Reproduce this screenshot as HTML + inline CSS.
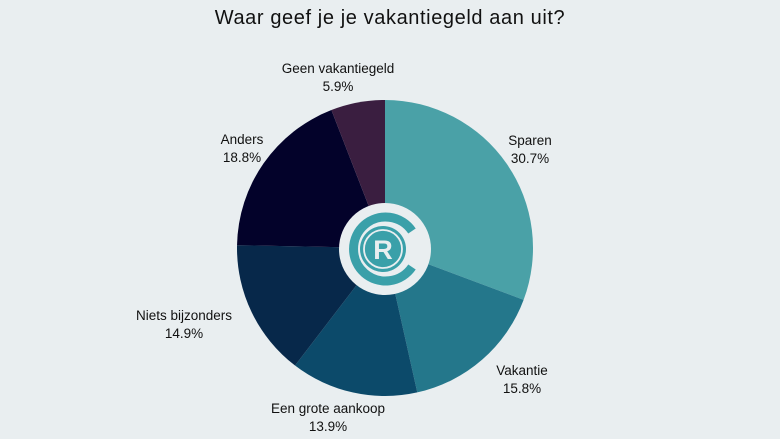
<!DOCTYPE html>
<html><head><meta charset="utf-8"><style>
body{margin:0;background:#e9eef0;}
svg{display:block;font-family:"Liberation Sans",sans-serif;}
</style></head><body>
<svg id="c" width="780" height="439" viewBox="0 0 780 439">
<rect width="780" height="439" fill="#e9eef0"/>
<text x="390" y="24" text-anchor="middle" font-size="20" letter-spacing="0.6" fill="#111">Waar geef je je vakantiegeld aan uit?</text>
<g id="slices"></g>
<g id="labels"></g>
<g>
<circle cx="385" cy="249" r="46" fill="#e9eef0"/>
<path d="M 412 231 A 32 32 0 1 0 412 267" fill="none" stroke="#3aa0a9" stroke-width="9"/>
<circle cx="383" cy="249" r="23" fill="#3aa0a9"/>
<circle cx="383" cy="249" r="19" fill="none" stroke="#e9eef0" stroke-width="1.8"/>
<text x="383" y="259" text-anchor="middle" font-size="27" font-weight="bold" fill="#e9eef0">R</text>
</g>
</svg>
<script>
const categories=["Sparen","Vakantie","Een grote aankoop","Niets bijzonders","Anders","Geen vakantiegeld"];
const values=[30.7,15.8,13.9,14.9,18.8,5.9];
const colors=["#4aa1a7","#24778b","#0c4a6a","#07284a","#03022a","#3a1e40"];
const labelPos=[[530,145,"middle"],[522,375,"middle"],[328,413,"middle"],[184,320,"middle"],[242,144,"middle"],[338,73,"middle"]];
const cx=385,cy=248,r=148;
const ns="http://www.w3.org/2000/svg";
const total=values.reduce((a,b)=>a+b,0);
let a0=0;
const sg=document.getElementById('slices'),lg=document.getElementById('labels');
function pt(a){return [cx+r*Math.sin(a),cy-r*Math.cos(a)];}
values.forEach((v,i)=>{
 const a1=a0+v/total*2*Math.PI;
 const p0=pt(a0),p1=pt(a1);
 const p=document.createElementNS(ns,'path');
 p.setAttribute('d',`M${cx},${cy}L${p0[0]},${p0[1]}A${r},${r} 0 ${a1-a0>Math.PI?1:0} 1 ${p1[0]},${p1[1]}Z`);
 p.setAttribute('fill',colors[i]);
 
 
 sg.appendChild(p);
 const [lx,ly,an]=labelPos[i];
 const t=document.createElementNS(ns,'text');
 t.setAttribute('x',lx);t.setAttribute('y',ly);t.setAttribute('text-anchor',an);
 t.setAttribute('font-size','13.5');t.setAttribute('fill','#111');
 
 
 const s1=document.createElementNS(ns,'tspan');s1.setAttribute('x',lx);s1.textContent=categories[i];
 const s2=document.createElementNS(ns,'tspan');s2.setAttribute('x',lx);s2.setAttribute('dy','18');s2.textContent=v.toFixed(1)+'%';
 t.appendChild(s1);t.appendChild(s2);lg.appendChild(t);
 a0=a1;
});
</script>
</body></html>
